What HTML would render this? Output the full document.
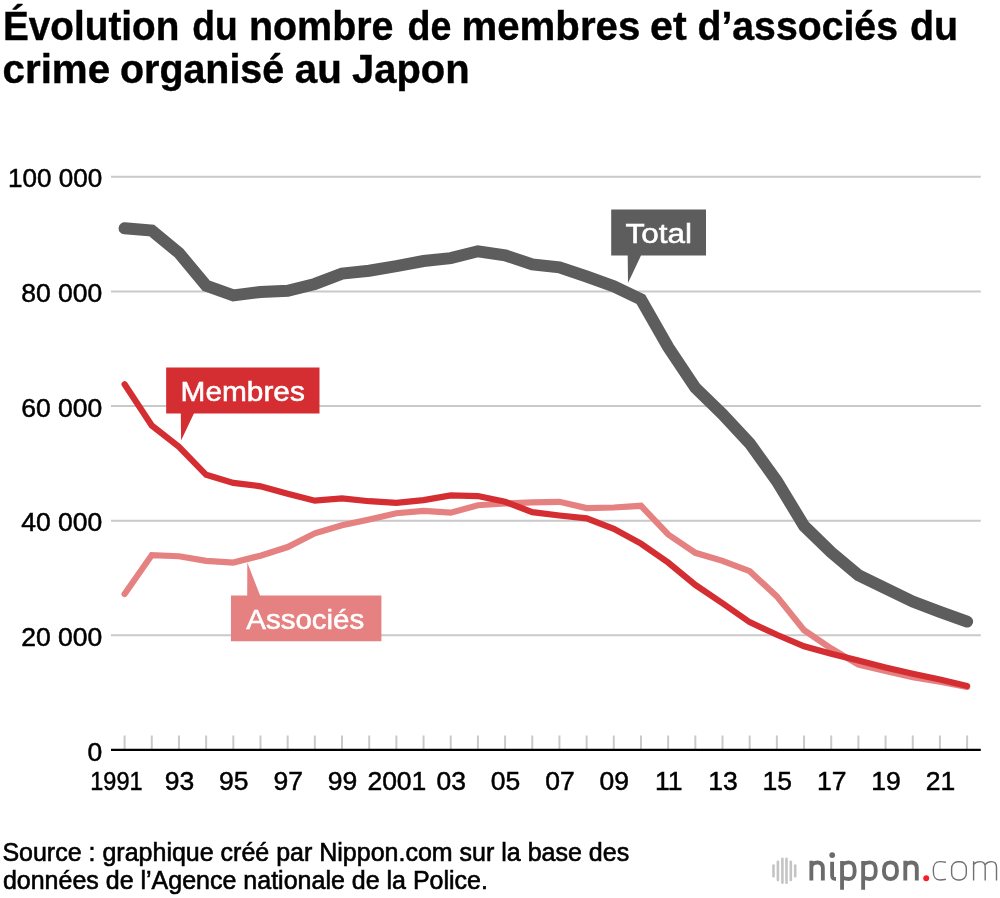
<!DOCTYPE html>
<html><head><meta charset="utf-8">
<style>
html,body{margin:0;padding:0;background:#fff;}
body{width:1000px;height:898px;overflow:hidden;font-family:"Liberation Sans",sans-serif;}
svg{display:block;}
text{font-family:"Liberation Sans",sans-serif;}
.ax{font-size:26.5px;fill:#000;stroke:#000;stroke-width:0.5px;}
.ttl{font-size:39.8px;font-weight:bold;fill:#000;stroke:#000;stroke-width:0.4px;}
.src{font-size:25px;fill:#000;stroke:#000;stroke-width:0.6px;}
.lab{font-size:28.2px;fill:#fff;stroke:#fff;stroke-width:0.55px;}
</style></head><body>
<svg width="1000" height="898" viewBox="0 0 1000 898">
<rect width="1000" height="898" fill="#fff"/>
<g style="mix-blend-mode:multiply"><rect x="0" y="0" width="1" height="1" fill="#fff"/></g>
<text x="3.00" y="39.9" class="ttl" textLength="176.34" lengthAdjust="spacingAndGlyphs">Évolution</text>
<text x="192.25" y="39.9" class="ttl" textLength="45.40" lengthAdjust="spacingAndGlyphs">du</text>
<text x="249.00" y="39.9" class="ttl" textLength="144.45" lengthAdjust="spacingAndGlyphs">nombre</text>
<text x="407.50" y="39.9" class="ttl" textLength="43.85" lengthAdjust="spacingAndGlyphs">de</text>
<text x="461.50" y="39.9" class="ttl" textLength="178.76" lengthAdjust="spacingAndGlyphs">membres</text>
<text x="650.00" y="39.9" class="ttl" textLength="36.63" lengthAdjust="spacingAndGlyphs">et</text>
<text x="697.50" y="39.9" class="ttl" textLength="200.44" lengthAdjust="spacingAndGlyphs">d’associés</text>
<text x="910.00" y="39.9" class="ttl" textLength="48.12" lengthAdjust="spacingAndGlyphs">du</text>
<text x="2.50" y="83.4" class="ttl" textLength="107.69" lengthAdjust="spacingAndGlyphs">crime</text>
<text x="120.00" y="83.4" class="ttl" textLength="164.18" lengthAdjust="spacingAndGlyphs">organisé</text>
<text x="294.75" y="83.4" class="ttl" textLength="47.09" lengthAdjust="spacingAndGlyphs">au</text>
<text x="352.00" y="83.4" class="ttl" textLength="117.55" lengthAdjust="spacingAndGlyphs">Japon</text>
<line x1="111" x2="980.8" y1="635.35" y2="635.35" stroke="#c9c9c9" stroke-width="2"/>
<line x1="111" x2="980.8" y1="520.70" y2="520.70" stroke="#c9c9c9" stroke-width="2"/>
<line x1="111" x2="980.8" y1="406.05" y2="406.05" stroke="#c9c9c9" stroke-width="2"/>
<line x1="111" x2="980.8" y1="291.40" y2="291.40" stroke="#c9c9c9" stroke-width="2"/>
<line x1="111" x2="980.8" y1="176.75" y2="176.75" stroke="#c9c9c9" stroke-width="2"/>
<line x1="124.60" x2="124.60" y1="735.5" y2="750" stroke="#c9c9c9" stroke-width="2"/>
<line x1="151.78" x2="151.78" y1="735.5" y2="750" stroke="#c9c9c9" stroke-width="2"/>
<line x1="178.95" x2="178.95" y1="735.5" y2="750" stroke="#c9c9c9" stroke-width="2"/>
<line x1="206.13" x2="206.13" y1="735.5" y2="750" stroke="#c9c9c9" stroke-width="2"/>
<line x1="233.31" x2="233.31" y1="735.5" y2="750" stroke="#c9c9c9" stroke-width="2"/>
<line x1="260.49" x2="260.49" y1="735.5" y2="750" stroke="#c9c9c9" stroke-width="2"/>
<line x1="287.66" x2="287.66" y1="735.5" y2="750" stroke="#c9c9c9" stroke-width="2"/>
<line x1="314.84" x2="314.84" y1="735.5" y2="750" stroke="#c9c9c9" stroke-width="2"/>
<line x1="342.02" x2="342.02" y1="735.5" y2="750" stroke="#c9c9c9" stroke-width="2"/>
<line x1="369.20" x2="369.20" y1="735.5" y2="750" stroke="#c9c9c9" stroke-width="2"/>
<line x1="396.37" x2="396.37" y1="735.5" y2="750" stroke="#c9c9c9" stroke-width="2"/>
<line x1="423.55" x2="423.55" y1="735.5" y2="750" stroke="#c9c9c9" stroke-width="2"/>
<line x1="450.73" x2="450.73" y1="735.5" y2="750" stroke="#c9c9c9" stroke-width="2"/>
<line x1="477.91" x2="477.91" y1="735.5" y2="750" stroke="#c9c9c9" stroke-width="2"/>
<line x1="505.08" x2="505.08" y1="735.5" y2="750" stroke="#c9c9c9" stroke-width="2"/>
<line x1="532.26" x2="532.26" y1="735.5" y2="750" stroke="#c9c9c9" stroke-width="2"/>
<line x1="559.44" x2="559.44" y1="735.5" y2="750" stroke="#c9c9c9" stroke-width="2"/>
<line x1="586.62" x2="586.62" y1="735.5" y2="750" stroke="#c9c9c9" stroke-width="2"/>
<line x1="613.79" x2="613.79" y1="735.5" y2="750" stroke="#c9c9c9" stroke-width="2"/>
<line x1="640.97" x2="640.97" y1="735.5" y2="750" stroke="#c9c9c9" stroke-width="2"/>
<line x1="668.15" x2="668.15" y1="735.5" y2="750" stroke="#c9c9c9" stroke-width="2"/>
<line x1="695.33" x2="695.33" y1="735.5" y2="750" stroke="#c9c9c9" stroke-width="2"/>
<line x1="722.50" x2="722.50" y1="735.5" y2="750" stroke="#c9c9c9" stroke-width="2"/>
<line x1="749.68" x2="749.68" y1="735.5" y2="750" stroke="#c9c9c9" stroke-width="2"/>
<line x1="776.86" x2="776.86" y1="735.5" y2="750" stroke="#c9c9c9" stroke-width="2"/>
<line x1="804.04" x2="804.04" y1="735.5" y2="750" stroke="#c9c9c9" stroke-width="2"/>
<line x1="831.21" x2="831.21" y1="735.5" y2="750" stroke="#c9c9c9" stroke-width="2"/>
<line x1="858.39" x2="858.39" y1="735.5" y2="750" stroke="#c9c9c9" stroke-width="2"/>
<line x1="885.57" x2="885.57" y1="735.5" y2="750" stroke="#c9c9c9" stroke-width="2"/>
<line x1="912.75" x2="912.75" y1="735.5" y2="750" stroke="#c9c9c9" stroke-width="2"/>
<line x1="939.92" x2="939.92" y1="735.5" y2="750" stroke="#c9c9c9" stroke-width="2"/>
<line x1="967.10" x2="967.10" y1="735.5" y2="750" stroke="#c9c9c9" stroke-width="2"/>

<line x1="111" x2="980.8" y1="749.8" y2="749.8" stroke="#000" stroke-width="2.3"/>
<text x="102.3" y="760.50" text-anchor="end" class="ax">0</text>
<text x="102.3" y="645.85" text-anchor="end" class="ax">20 000</text>
<text x="102.3" y="531.20" text-anchor="end" class="ax">40 000</text>
<text x="102.3" y="416.55" text-anchor="end" class="ax">60 000</text>
<text x="102.3" y="301.90" text-anchor="end" class="ax">80 000</text>
<text x="102.3" y="187.25" text-anchor="end" class="ax" textLength="94.3" lengthAdjust="spacingAndGlyphs">100 000</text>
<text x="116.40" y="789.5" text-anchor="middle" class="ax" textLength="52.2" lengthAdjust="spacingAndGlyphs">1991</text>
<text x="179.45" y="789.5" text-anchor="middle" class="ax">93</text>
<text x="233.81" y="789.5" text-anchor="middle" class="ax">95</text>
<text x="288.16" y="789.5" text-anchor="middle" class="ax">97</text>
<text x="342.52" y="789.5" text-anchor="middle" class="ax">99</text>
<text x="396.87" y="789.5" text-anchor="middle" class="ax">2001</text>
<text x="451.23" y="789.5" text-anchor="middle" class="ax">03</text>
<text x="505.58" y="789.5" text-anchor="middle" class="ax">05</text>
<text x="559.94" y="789.5" text-anchor="middle" class="ax">07</text>
<text x="614.29" y="789.5" text-anchor="middle" class="ax">09</text>
<text x="668.65" y="789.5" text-anchor="middle" class="ax">11</text>
<text x="723.00" y="789.5" text-anchor="middle" class="ax">13</text>
<text x="777.36" y="789.5" text-anchor="middle" class="ax">15</text>
<text x="831.71" y="789.5" text-anchor="middle" class="ax">17</text>
<text x="886.07" y="789.5" text-anchor="middle" class="ax">19</text>
<text x="940.42" y="789.5" text-anchor="middle" class="ax">21</text>

<path d="M124.60 594.08 L151.78 555.10 L178.95 556.24 L206.13 560.83 L233.31 562.55 L260.49 555.67 L287.66 547.07 L314.84 533.31 L342.02 525.29 L369.20 519.55 L396.37 513.25 L423.55 510.95 L450.73 512.67 L477.91 505.22 L505.08 503.50 L532.26 502.36 L559.44 501.78 L586.62 508.09 L613.79 507.52 L640.97 505.80 L668.15 534.46 L695.33 552.80 L722.50 560.83 L749.68 571.15 L776.86 596.37 L804.04 630.19 L831.21 648.53 L858.39 664.59 L885.57 670.89 L912.75 677.20 L939.92 681.78 L967.10 686.94" fill="none" stroke="#e68181" stroke-width="6.2" stroke-linecap="round" stroke-linejoin="miter"/>
<path d="M124.60 384.27 L151.78 425.54 L178.95 446.75 L206.13 474.84 L233.31 482.87 L260.49 486.31 L287.66 493.76 L314.84 500.64 L342.02 498.34 L369.20 501.21 L396.37 502.93 L423.55 500.06 L450.73 495.48 L477.91 496.05 L505.08 501.78 L532.26 512.10 L559.44 515.54 L586.62 518.41 L613.79 528.73 L640.97 543.63 L668.15 562.55 L695.33 584.90 L722.50 603.25 L749.68 622.17 L776.86 634.78 L804.04 646.24 L831.21 653.69 L858.39 660.57 L885.57 667.45 L912.75 673.76 L939.92 679.49 L967.10 686.08" fill="none" stroke="#d42e32" stroke-width="6.2" stroke-linecap="round" stroke-linejoin="miter"/>
<path d="M124.60 228.34 L151.78 230.64 L178.95 252.99 L206.13 285.67 L233.31 295.41 L260.49 291.97 L287.66 290.83 L314.84 283.95 L342.02 273.63 L369.20 270.76 L396.37 266.18 L423.55 261.02 L450.73 258.15 L477.91 251.27 L505.08 255.29 L532.26 264.46 L559.44 267.32 L586.62 276.50 L613.79 286.24 L640.97 299.43 L668.15 347.01 L695.33 387.71 L722.50 414.08 L749.68 443.31 L776.86 481.15 L804.04 525.86 L831.21 552.23 L858.39 575.16 L885.57 588.34 L912.75 601.53 L939.92 611.85 L967.10 621.59" fill="none" stroke="#5d5d5d" stroke-width="12" stroke-linecap="round" stroke-linejoin="miter"/>
<!-- labels -->
<polygon points="611.2,209.5 706,209.5 706,255.4 641,255.4 628,283 627.7,255.4 611.2,255.4" fill="#5d5d5d"/>
<text x="625.58" y="243.3" class="lab" textLength="66.49" lengthAdjust="spacingAndGlyphs">Total</text>
<polygon points="166.15,367.6 319.5,367.6 319.5,413.5 193.9,413.5 181.1,440.6 180.8,413.5 166.15,413.5" fill="#d42e32"/>
<text x="180.62" y="401.1" class="lab" textLength="124.22" lengthAdjust="spacingAndGlyphs">Membres</text>
<polygon points="230.95,595.6 247.2,595.6 247.3,562.6 260.1,595.6 381.4,595.6 381.4,641.2 230.95,641.2" fill="#e68181"/>
<text x="246.25" y="628.6" class="lab" textLength="118.02" lengthAdjust="spacingAndGlyphs">Associés</text>
<text x="2.4" y="861.2" class="src">Source : graphique créé par Nippon.com sur la base des</text>
<text x="2.9" y="889.2" class="src">données de l’Agence nationale de la Police.</text>
<!-- logo -->
<line x1="773.5" x2="773.5" y1="865.5" y2="876.2" stroke="#c4c4c4" stroke-width="2.6" stroke-linecap="round"/>
<line x1="777.9" x2="777.9" y1="861.8" y2="880.1" stroke="#c4c4c4" stroke-width="2.6" stroke-linecap="round"/>
<line x1="782.4" x2="782.4" y1="858.9" y2="882.8" stroke="#c4c4c4" stroke-width="2.6" stroke-linecap="round"/>
<line x1="786.5" x2="786.5" y1="858.9" y2="882.8" stroke="#c4c4c4" stroke-width="2.6" stroke-linecap="round"/>
<line x1="790.8" x2="790.8" y1="861.8" y2="880.0" stroke="#c4c4c4" stroke-width="2.6" stroke-linecap="round"/>
<line x1="795.2" x2="795.2" y1="865.5" y2="876.2" stroke="#c4c4c4" stroke-width="2.6" stroke-linecap="round"/>
<g fill="none" stroke="#6b6b6b" stroke-width="3.85">
<path d="M811.35 880.4V860.7 M811.35 867.5C811.35 864.2 813.95 862.45 817.35 862.45C821.35 862.45 822.85 864.4 822.85 868.2V880.4"/>
<path d="M832.1 861.7V875.6C832.1 878 833.3 878.9 836 878.8"/>
<path d="M842.05 860.9V889.7 M842.05 864.6C843.65 863.2 846.25 862.4 848.65 862.4C853.05 862.4 854.70 864.6 854.70 870.65C854.70 876.7 853.05 878.95 848.65 878.95C846.25 878.95 843.65 878.3 842.05 877"/>
<path d="M863.15 860.9V889.7 M863.15 864.6C864.75 863.2 867.35 862.4 869.75 862.4C874.15 862.4 875.80 864.6 875.80 870.65C875.80 876.7 874.15 878.95 869.75 878.95C867.35 878.95 864.75 878.3 863.15 877"/>
<path d="M883.90 870.70C883.90 865.06 886.00 862.40 890.45 862.40C894.90 862.40 897.00 865.06 897.00 870.70C897.00 876.34 894.90 879.00 890.45 879.00C886.00 879.00 883.90 876.34 883.90 870.70Z"/>
<path d="M905.30 880.4V860.7 M905.30 867.5C905.30 864.2 907.90 862.45 911.30 862.45C915.30 862.45 916.80 864.4 916.80 868.2V880.4"/>
</g>
<circle cx="832.2" cy="855.1" r="2.9" fill="#6b6b6b"/>
<circle cx="926.2" cy="878.2" r="2.95" fill="#fb1c26"/>
<g fill="none" stroke="#707070" stroke-width="1.4">
<path d="M945.9 862.2C943.8 861.8 941.6 861.6 939.9 861.6C934.7 861.6 933.3 864.6 933.3 870.8C933.3 877 934.7 880 939.9 880C941.6 880 943.8 879.8 945.9 879.3"/>
<rect x="951.6" y="861.7" width="14.7" height="18.3" rx="6.1" ry="6.6"/>
<path d="M973.6 880.6V861.2 M973.6 864.6C975 862.6 977.5 861.6 980 861.6C983.6 861.6 985.2 863.4 985.2 867V880.6 M985.2 864.6C986.7 862.6 989 861.6 991.4 861.6C995.1 861.6 996.5 863.4 996.5 867V880.6"/>
</g>

</svg>
</body></html>
